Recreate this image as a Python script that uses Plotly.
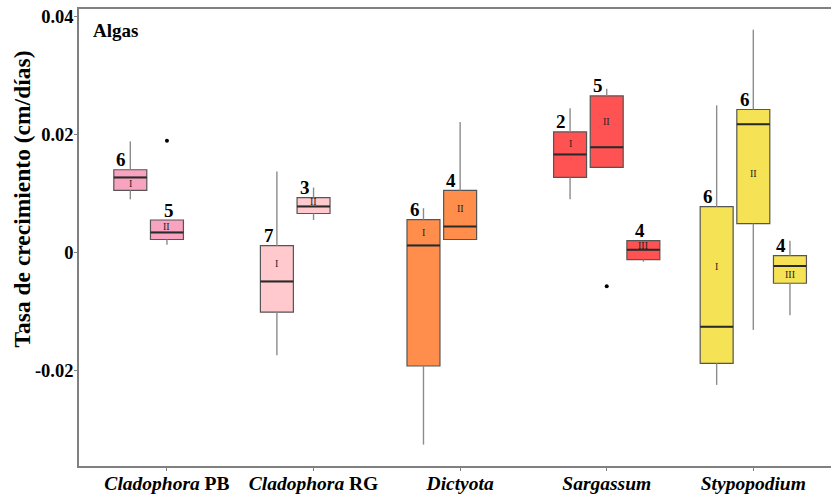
import plotly.graph_objects as go

# Species groups along the x axis
categories = ["<b><i>Cladophora</i> PB</b>", "<b><i>Cladophora</i> RG</b>",
              "<b><i>Dictyota</i></b>", "<b><i>Sargassum</i></b>",
              "<b><i>Stypopodium</i></b>"]

# One entry per box: species index, sub-group (I, II, III) and sample size
box_group = [0, 0, 1, 1, 2, 2, 3, 3, 3, 4, 4, 4]
box_level = ["I", "II", "I", "II", "I", "II", "I", "II", "III", "I", "II", "III"]
box_n = [6, 5, 7, 3, 6, 4, 2, 5, 4, 6, 6, 4]

# Box statistics (cm/día)
upper = [0.0188, 0.0055, 0.0137, 0.0110, 0.0075, 0.0221, 0.0244, 0.0277, 0.0020, 0.0249, 0.0377, 0.0020]
q3 = [0.0140, 0.0055, 0.00115, 0.0093, 0.00555, 0.0105, 0.0204, 0.0265, 0.0020, 0.00775, 0.0242, -0.00054]
median = [0.0127, 0.0034, -0.0049, 0.0078, 0.0012, 0.0044, 0.0166, 0.0178, 0.00047, -0.01255, 0.0217, -0.0023]
q1 = [0.0105, 0.0022, -0.0101, 0.0066, -0.0192, 0.0022, 0.0127, 0.0144, -0.0012, -0.01875, 0.0049, -0.0052]
lower = [0.0090, 0.0013, -0.0174, 0.0055, -0.0325, 0.0022, 0.0090, 0.0144, -0.00156, -0.0224, -0.0131, -0.0106]

# Outlying observations
outlier_box = [1, 7]
outlier_value = [0.0189, -0.0057]

# Fill colour per species
colors = ["#F8A3BF", "#FFC9CD", "#FF8E4C", "#FF5252", "#F5E255"]

FONT = "Liberation Serif"
slot = {"I": -0.25, "II": 0.0, "III": 0.25}
numeral_half = ["lower", "upper", "upper", "upper", "upper", "upper",
                "upper", "upper", "upper", "upper", "lower", "lower"]
count_dx = [-0.065, 0.012, -0.055, -0.055, -0.055, -0.06,
            -0.06, -0.06, -0.025, -0.06, -0.055, -0.06]

fig = go.Figure()
annotations = []

for i, g in enumerate(box_group):
    x = g + slot[box_level[i]]
    # whiskers
    fig.add_trace(go.Scatter(
        x=[x, x, None, x, x], y=[q3[i], upper[i], None, q1[i], lower[i]],
        mode="lines", line=dict(color="#8c8c8c", width=1.4),
        showlegend=False, hoverinfo="skip"))
    # box
    fig.add_trace(go.Box(
        x=[x], q1=[q1[i]], median=[median[i]], q3=[q3[i]],
        lowerfence=[q1[i]], upperfence=[q3[i]],
        width=0.225, fillcolor=colors[g],
        line=dict(color="#555555", width=1.2),
        whiskerwidth=0, showlegend=False, boxpoints=False))
    # median line
    fig.add_trace(go.Scatter(
        x=[x - 0.1125, x + 0.1125], y=[median[i], median[i]],
        mode="lines", line=dict(color="#2a2a2a", width=2),
        showlegend=False, hoverinfo="skip"))
    # sample size above the box
    annotations.append(dict(
        x=x + count_dx[i], y=q3[i], xref="x", yref="y", text=f"<b>{box_n[i]}</b>",
        showarrow=False, yanchor="middle", yshift=10,
        font=dict(family=FONT, size=19, color="black")))
    # sub-group numeral inside the box
    ny = (q3[i] + median[i]) / 2 if numeral_half[i] == "upper" else (median[i] + q1[i]) / 2
    annotations.append(dict(
        x=x, y=ny, xref="x", yref="y", text=box_level[i], showarrow=False,
        font=dict(family=FONT, size=10, color="#222222")))

fig.add_trace(go.Scatter(
    x=[box_group[b] + slot[box_level[b]] for b in outlier_box], y=outlier_value,
    mode="markers", marker=dict(color="black", size=4),
    showlegend=False, hoverinfo="skip"))

annotations.append(dict(
    x=0.016, y=0.954, xref="paper", yref="paper", text="<b>Algas</b>",
    showarrow=False, xanchor="left", yanchor="middle",
    font=dict(family=FONT, size=19, color="black")))
annotations.append(dict(
    x=-0.076, y=0.585, xref="paper", yref="paper",
    text="<b>Tasa de crecimiento (cm/días)</b>", textangle=-90,
    showarrow=False, xanchor="center", yanchor="middle",
    font=dict(family=FONT, size=23.5, color="black")))

fig.update_layout(
    width=831, height=494,
    margin=dict(l=79, r=0, t=9, b=28),
    paper_bgcolor="white", plot_bgcolor="white",
    boxmode="overlay",
    annotations=annotations,
    xaxis=dict(
        range=[-0.6, 4.53], tickvals=list(range(len(categories))), ticktext=categories,
        showgrid=False, zeroline=False, showline=True, mirror=True,
        linecolor="#808080", linewidth=1.6, ticks="outside", ticklen=3,
        tickcolor="#808080", ticklabelstandoff=-4,
        tickfont=dict(family=FONT, size=19.5, color="black")),
    yaxis=dict(
        range=[-0.03612, 0.0412], tickvals=[-0.02, 0, 0.02, 0.04],
        ticktext=["<b>-0.02</b>", "<b>0</b>", "<b>0.02</b>", "<b>0.04</b>"],
        showgrid=False, zeroline=False, showline=True, mirror=False,
        linecolor="#808080", linewidth=1.6, ticks="outside", ticklen=3,
        tickcolor="#808080", ticklabelstandoff=-3,
        tickfont=dict(family=FONT, size=18.5, color="black")),
)

fig.write_html("out.html")
